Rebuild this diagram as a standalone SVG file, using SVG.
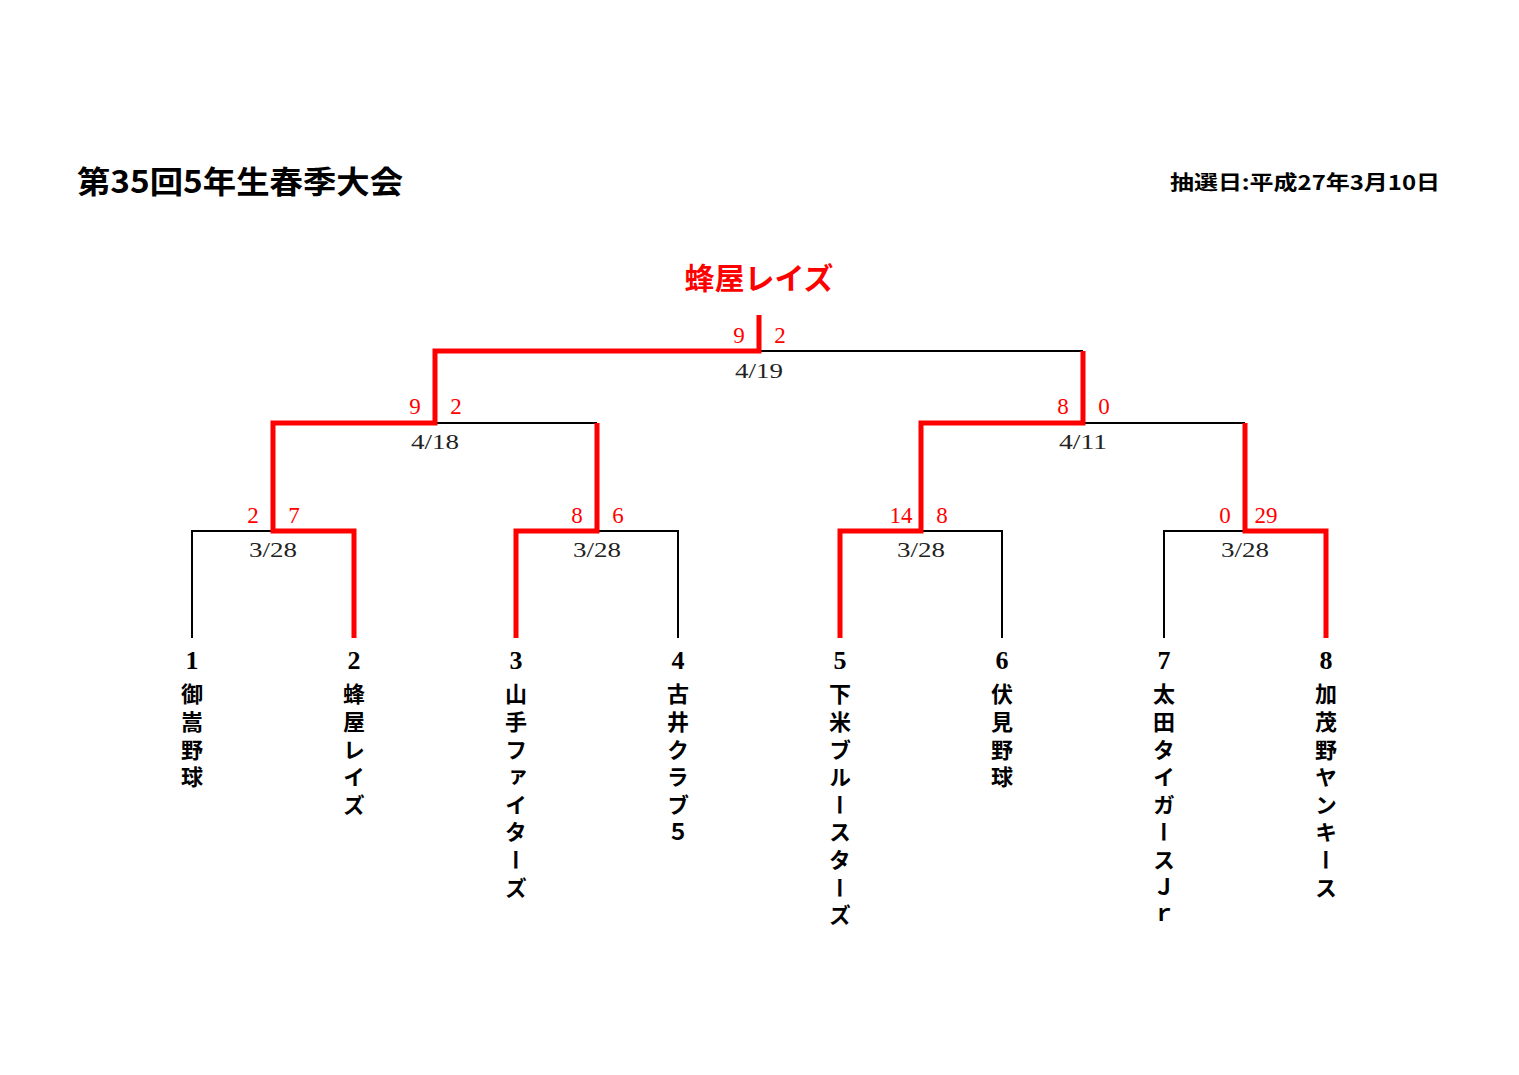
<svg xmlns="http://www.w3.org/2000/svg" width="1519" height="1075" viewBox="0 0 1519 1075">
<style>
.blk{fill:none;stroke:#000;stroke-width:2}
.red{fill:none;stroke:#ff0000;stroke-width:5;stroke-linejoin:miter;stroke-linecap:butt}
.sc{font-family:"Liberation Serif","DejaVu Serif",serif;font-size:23px;fill:#ff0000;text-anchor:middle}
.dt{font-family:"Liberation Serif","DejaVu Serif",serif;font-size:22px;fill:#222;text-anchor:middle}
.num{font-family:"Liberation Serif","DejaVu Serif",serif;font-size:26px;font-weight:bold;fill:#000;text-anchor:middle}
.nm{font-family:"Noto Sans CJK JP","Noto Sans CJK SC",sans-serif;font-size:22px;font-weight:bold;fill:#000;writing-mode:vertical-rl;letter-spacing:5.6px}
</style>
<rect width="1519" height="1075" fill="#fff"/>
<text x="77" y="193" font-family="Noto Sans CJK JP, sans-serif" font-size="31" font-weight="bold" textLength="326" lengthAdjust="spacingAndGlyphs">第35回5年生春季大会</text>
<text x="1170" y="190" font-family="Noto Sans CJK JP, sans-serif" font-size="20" font-weight="bold" textLength="270" lengthAdjust="spacingAndGlyphs">抽選日:平成27年3月10日</text>
<text x="759" y="289" font-family="Noto Sans CJK JP, sans-serif" font-size="30" font-weight="bold" fill="#ff0000" text-anchor="middle">蜂屋レイズ</text>
<g id="connectors">
<path class="blk" d="M192,638 V531 H273"/>
<path class="blk" d="M597,531 H678 V638"/>
<path class="blk" d="M921,531 H1002 V638"/>
<path class="blk" d="M1164,638 V531 H1245"/>
<path class="blk" d="M435,423 H597"/>
<path class="blk" d="M1083,423 H1245"/>
<path class="blk" d="M759,351 H1083"/>
<path class="red" d="M354,638 V531 H273 V423 H435 V351 H759 V315"/>
<path class="red" d="M516,638 V531 H597 V423"/>
<path class="red" d="M840,638 V531 H921 V423 H1083 V351"/>
<path class="red" d="M1326,638 V531 H1245 V423"/>
</g>
<g id="scores">
<text class="sc" x="739" y="343">9</text><text class="sc" x="780" y="343">2</text>
<text class="dt" x="759" y="378" textLength="48" lengthAdjust="spacingAndGlyphs">4/19</text>
<text class="sc" x="415" y="414">9</text><text class="sc" x="456" y="414">2</text>
<text class="dt" x="435" y="449" textLength="48" lengthAdjust="spacingAndGlyphs">4/18</text>
<text class="sc" x="1063" y="414">8</text><text class="sc" x="1104" y="414">0</text>
<text class="dt" x="1083" y="449" textLength="48" lengthAdjust="spacingAndGlyphs">4/11</text>
<text class="sc" x="253" y="523">2</text><text class="sc" x="294" y="523">7</text>
<text class="dt" x="273" y="557" textLength="48" lengthAdjust="spacingAndGlyphs">3/28</text>
<text class="sc" x="577" y="523">8</text><text class="sc" x="618" y="523">6</text>
<text class="dt" x="597" y="557" textLength="48" lengthAdjust="spacingAndGlyphs">3/28</text>
<text class="sc" x="901" y="523">14</text><text class="sc" x="942" y="523">8</text>
<text class="dt" x="921" y="557" textLength="48" lengthAdjust="spacingAndGlyphs">3/28</text>
<text class="sc" x="1225" y="523">0</text><text class="sc" x="1266" y="523">29</text>
<text class="dt" x="1245" y="557" textLength="48" lengthAdjust="spacingAndGlyphs">3/28</text>
</g>
<g id="team1"><text class="num" x="192" y="669">1</text><text class="nm" x="192" y="683">御嵩野球</text></g>
<g id="team2"><text class="num" x="354" y="669">2</text><text class="nm" x="354" y="683">蜂屋レイズ</text></g>
<g id="team3"><text class="num" x="516" y="669">3</text><text class="nm" x="516" y="683">山手ファイターズ</text></g>
<g id="team4"><text class="num" x="678" y="669">4</text><text class="nm" x="678" y="683">古井クラブ５</text></g>
<g id="team5"><text class="num" x="840" y="669">5</text><text class="nm" x="840" y="683">下米ブルースターズ</text></g>
<g id="team6"><text class="num" x="1002" y="669">6</text><text class="nm" x="1002" y="683">伏見野球</text></g>
<g id="team7"><text class="num" x="1164" y="669">7</text><text class="nm" x="1164" y="683">太田タイガースＪｒ</text></g>
<g id="team8"><text class="num" x="1326" y="669">8</text><text class="nm" x="1326" y="683">加茂野ヤンキース</text></g>
</svg>
